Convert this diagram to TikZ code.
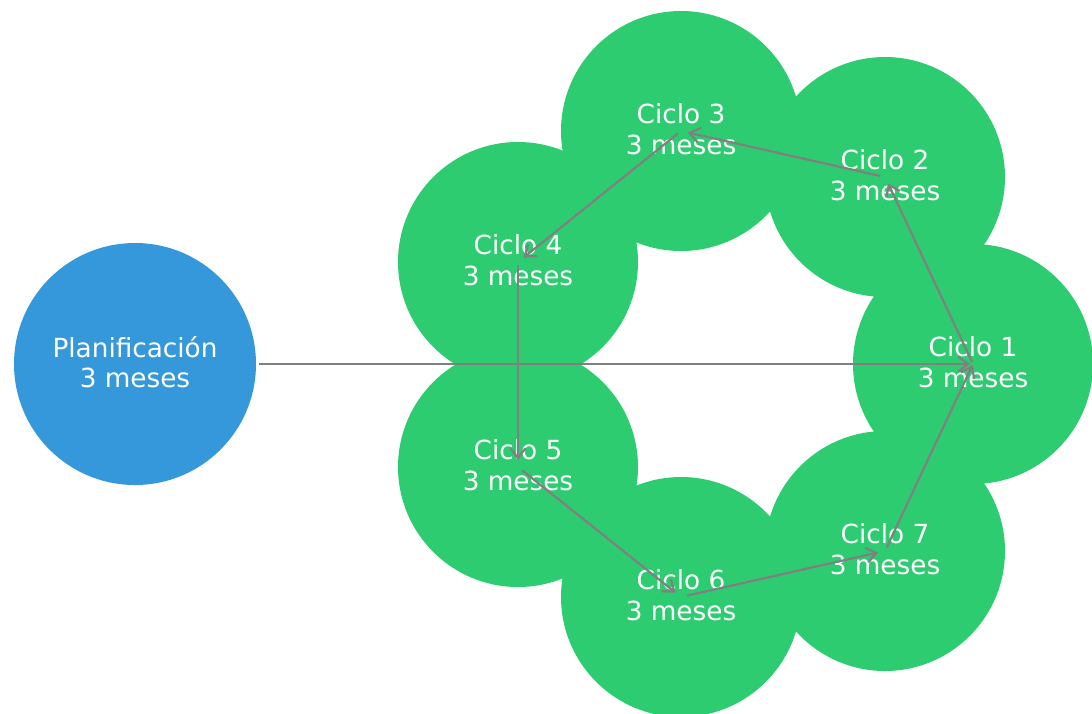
\documentclass[tikz,border=0pt]{standalone}
\usepackage{fontspec}
\setmainfont{DejaVu Sans}
\usetikzlibrary{arrows.meta}
\definecolor{cycgreen}{RGB}{46,204,113}
\definecolor{planblue}{RGB}{52,152,219}
\definecolor{arrgray}{RGB}{128,128,128}
\begin{document}
\begin{tikzpicture}[x=1pt,y=-1pt,
  disc/.style={circle, inner sep=0pt, minimum size=240pt},
  cyclenode/.style={disc, fill=cycgreen},
  plannode/.style={disc, fill=planblue, minimum size=242pt},
  caption/.style={inner sep=0pt, text=white, align=center,
    font=\fontsize{26.3}{30.6}\selectfont},
  flow/.style={draw=arrgray, line width=2.2pt,
    -{Straight Barb[length=10pt,width=15pt,line width=2.2pt]}}]
\useasboundingbox (0,0) rectangle (1092,713);

% circles
\node[plannode]  (plan) at (135,364) {};
\node[cyclenode] (c1) at (973,364) {};
\node[cyclenode] (c2) at (885,177) {};
\node[cyclenode] (c3) at (681,131) {};
\node[cyclenode] (c4) at (518,262) {};
\node[cyclenode] (c5) at (518,467) {};
\node[cyclenode] (c6) at (681,597) {};
\node[cyclenode] (c7) at (885,551) {};

% labels, set slightly above each circle's centre
\node[caption] (tplan) at ([yshift=2pt]plan.center) {Planificación\\3 meses};
\node[caption] (t1) at ([yshift=2pt]c1.center) {Ciclo 1\\3 meses};
\node[caption] (t2) at ([yshift=2pt]c2.center) {Ciclo 2\\3 meses};
\node[caption] (t3) at ([yshift=2pt]c3.center) {Ciclo 3\\3 meses};
\node[caption] (t4) at ([yshift=2pt]c4.center) {Ciclo 4\\3 meses};
\node[caption] (t5) at ([yshift=2pt]c5.center) {Ciclo 5\\3 meses};
\node[caption] (t6) at ([yshift=2pt]c6.center) {Ciclo 6\\3 meses};
\node[caption] (t7) at ([yshift=2pt]c7.center) {Ciclo 7\\3 meses};

% connectors drawn on top of the circles and labels
\draw[flow, shorten <=3pt, shorten >=3pt] (plan) -- (c1.center);
\draw[flow, shorten <=2pt, shorten >=7pt] (c1.center) -- (c2.center);
\draw[flow, shorten <=5pt, shorten >=7pt] (c2.center) -- (c3.center);
\draw[flow, shorten <=4pt, shorten >=7pt] (c3.center) -- (c4.center);
\draw[flow, shorten <=3pt, shorten >=7pt] (c4.center) -- (c5.center);
\draw[flow, shorten <=5pt, shorten >=7pt] (c5.center) -- (c6.center);
\draw[flow, shorten <=6pt, shorten >=7pt] (c6.center) -- (c7.center);
\draw[flow, shorten <=4pt, shorten >=1pt] (c7.center) -- (c1.center);
\end{tikzpicture}
\end{document}
